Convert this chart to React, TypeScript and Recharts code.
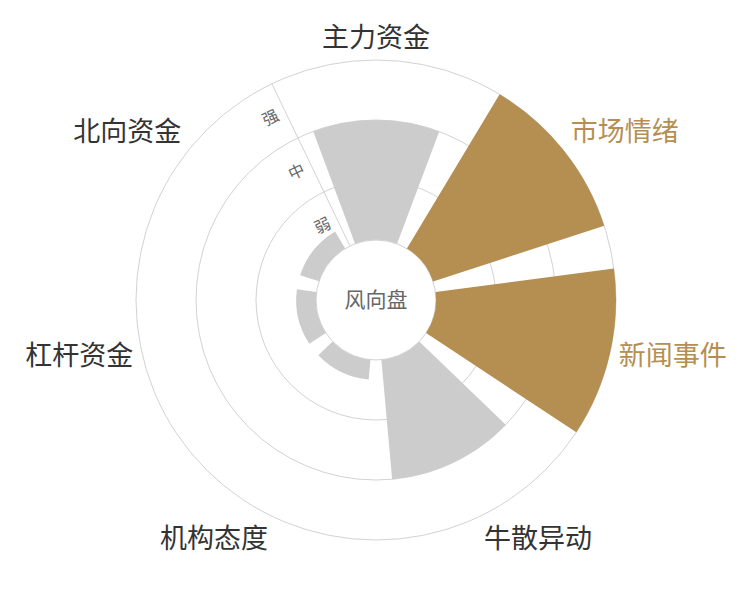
import { RadialBarChart, RadialBar, PolarAngleAxis, PolarRadiusAxis, PolarGrid, Cell } from 'recharts';

const categories = ['主力资金', '市场情绪', '新闻事件', '牛散异动', '机构态度', '杠杆资金', '北向资金'];
const strength = [2, 3, 3, 2, 0.33, 0.33, 0.33];
const highlighted = ['市场情绪', '新闻事件'];
const levelTicks = [0, 1, 2, 3];
const levelLabels = ['弱', '中', '强'];

const GOLD = '#b58f51';
const GREY = '#cccccc';
const LINE = '#d2d2d2';
const SECTOR = 360 / categories.length;
// recharts lays each bar half a band past its tick, so start the band half a sector early
const START = 90 - SECTOR / 2;
const AXIS_ANGLE = 90 + SECTOR / 2;
const CX = 376;
const CY = 300;
const INNER = 60;
const OUTER = 240;

const data = categories.map((name, i) => ({ name, value: strength[i] }));

function CategoryTick(props: any) {
  const { x, y, payload } = props;
  const r = Math.hypot(x - CX, y - CY);
  const rad = ((payload.coordinate + SECTOR / 2) * Math.PI) / 180;
  const cos = Math.cos(rad);
  const sin = Math.sin(rad);
  const lx = CX + r * cos;
  const ly = CY - r * sin;
  const anchor = Math.abs(cos) < 0.3 ? 'middle' : cos > 0 ? 'start' : 'end';
  const dy = Math.abs(sin) < 0.3 ? '0.36em' : sin > 0 ? '-0.14em' : '0.86em';
  const color = highlighted.includes(payload.value) ? GOLD : '#333333';
  return (
    <text x={lx} y={ly} dy={dy} textAnchor={anchor} fill={color} fontSize={27}>
      {payload.value}
    </text>
  );
}

// label each band in the middle, between this tick and the one below it
function LevelTick(props: any) {
  const { x, y, payload } = props;
  const v = payload.value;
  if (!v) return null;
  const dx = x - CX;
  const dy = y - CY;
  const r = Math.hypot(dx, dy);
  const f = (r - (r - INNER) / (2 * v)) / r;
  const lx = CX + dx * f;
  const ly = CY + dy * f;
  return (
    <text
      x={lx}
      y={ly}
      dx={-8}
      dy="0.35em"
      textAnchor="end"
      fill="#666666"
      fontSize={16}
      transform={`rotate(${90 - AXIS_ANGLE}, ${lx}, ${ly})`}
    >
      {levelLabels[v - 1]}
    </text>
  );
}

export default function App() {
  return (
    <div style={{ position: 'absolute', left: 0, top: 0, width: 750, height: 600, background: '#fff', fontFamily: '"Noto Sans CJK SC", "Noto Sans", sans-serif' }}>
      <RadialBarChart
        width={750}
        height={600}
        data={data}
        layout="centric"
        cx={CX}
        cy={CY}
        innerRadius={INNER}
        outerRadius={OUTER}
        startAngle={START}
        endAngle={START - 360}
        margin={{ top: 0, right: 0, bottom: 0, left: 0 }}
      >
        <PolarGrid gridType="circle" radialLines={false} stroke={LINE} />
        <PolarAngleAxis dataKey="name" type="category" axisLine={false} tickLine={false} tickSize={9} tick={<CategoryTick />} />
        <PolarRadiusAxis
          type="number"
          domain={[0, 3]}
          ticks={levelTicks}
          angle={AXIS_ANGLE}
          stroke={LINE}
          tickLine={false}
          tick={<LevelTick />}
        />
        <RadialBar dataKey="value" isAnimationActive={false}>
          {data.map((d) => (
            <Cell key={d.name} fill={highlighted.includes(d.name) ? GOLD : GREY} />
          ))}
        </RadialBar>
        <text x={CX} y={CY} dy="0.35em" textAnchor="middle" fontSize={21} fill="#666666">
          风向盘
        </text>
      </RadialBarChart>
    </div>
  );
}
